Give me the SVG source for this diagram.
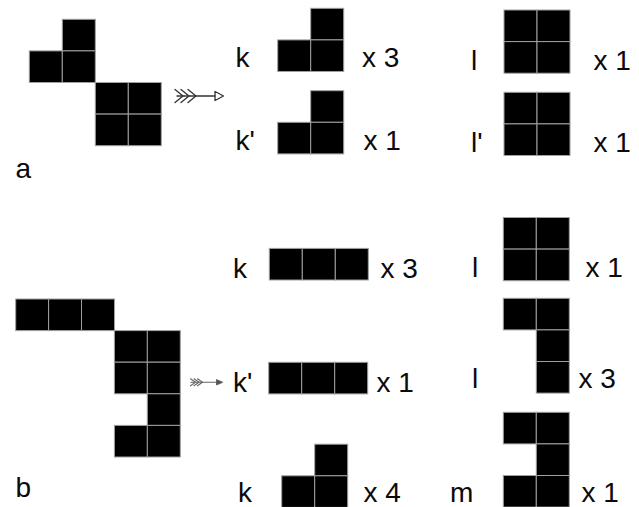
<svg xmlns="http://www.w3.org/2000/svg" width="639" height="507" viewBox="0 0 639 507">
<style>
.c{fill:#000;stroke:#a0a0a0;stroke-width:1}
.t{font-family:"Liberation Sans",Arial,sans-serif;font-size:28px;fill:#0a0a0a}
.ar{fill:none;stroke:#333;stroke-width:1.3;stroke-linecap:round;stroke-linejoin:round}
.ar2{fill:none;stroke:#666;stroke-width:1.1;stroke-linecap:round;stroke-linejoin:round}
</style>
<defs>
<rect id="cell" class="c" width="33" height="31.6"/>
</defs>
<rect width="639" height="507" fill="#fff"/>

<g id="piece-a">
<use href="#cell" x="62.3" y="19.3"/>
<use href="#cell" x="29.3" y="50.9"/>
<use href="#cell" x="62.3" y="50.9"/>
<use href="#cell" x="95.3" y="82.5"/>
<use href="#cell" x="128.3" y="82.5"/>
<use href="#cell" x="95.3" y="114.1"/>
<use href="#cell" x="128.3" y="114.1"/>
<text class="t" x="15.5" y="178">a</text>
</g>

<g id="a-k">
<text class="t" x="235.5" y="67">k</text>
<use href="#cell" x="310.7" y="8.3"/>
<use href="#cell" x="277.7" y="39.9"/>
<use href="#cell" x="310.7" y="39.9"/>
<text class="t" x="362" y="67">x 3</text>
</g>

<g id="a-k2">
<text class="t" x="235.5" y="150">k'</text>
<use href="#cell" x="310.7" y="90.7"/>
<use href="#cell" x="277.7" y="122.3"/>
<use href="#cell" x="310.7" y="122.3"/>
<text class="t" x="363.5" y="150">x 1</text>
</g>

<g id="a-l">
<text class="t" x="471" y="70">l</text>
<use href="#cell" x="504" y="10"/>
<use href="#cell" x="537" y="10"/>
<use href="#cell" x="504" y="41.6"/>
<use href="#cell" x="537" y="41.6"/>
<text class="t" x="593.5" y="70">x 1</text>
</g>

<g id="a-l2">
<text class="t" x="471" y="152">l'</text>
<use href="#cell" x="504" y="92.3"/>
<use href="#cell" x="537" y="92.3"/>
<use href="#cell" x="504" y="123.9"/>
<use href="#cell" x="537" y="123.9"/>
<text class="t" x="593.5" y="152">x 1</text>
</g>

<g id="piece-b">
<use href="#cell" x="15.7" y="299"/>
<use href="#cell" x="48.6" y="299"/>
<use href="#cell" x="81.5" y="299"/>
<use href="#cell" x="114.4" y="330.6"/>
<use href="#cell" x="147.3" y="330.6"/>
<use href="#cell" x="114.4" y="362.2"/>
<use href="#cell" x="147.3" y="362.2"/>
<use href="#cell" x="147.3" y="393.8"/>
<use href="#cell" x="114.4" y="425.4"/>
<use href="#cell" x="147.3" y="425.4"/>
<text class="t" x="15.5" y="497">b</text>
</g>

<g id="b-k">
<text class="t" x="233" y="278">k</text>
<use href="#cell" x="269.3" y="248.4"/>
<use href="#cell" x="302.3" y="248.4"/>
<use href="#cell" x="335.3" y="248.4"/>
<text class="t" x="380.5" y="278">x 3</text>
</g>

<g id="b-k2">
<text class="t" x="233" y="392">k'</text>
<use href="#cell" x="268.7" y="362.3"/>
<use href="#cell" x="301.7" y="362.3"/>
<use href="#cell" x="334.7" y="362.3"/>
<text class="t" x="376.5" y="392">x 1</text>
</g>

<g id="b-k3">
<text class="t" x="238" y="502">k</text>
<use href="#cell" x="314.7" y="444.2"/>
<use href="#cell" x="281.7" y="475.8"/>
<use href="#cell" x="314.7" y="475.8"/>
<text class="t" x="363.5" y="502">x 4</text>
</g>

<g id="b-l">
<text class="t" x="472" y="277">l</text>
<use href="#cell" x="503.3" y="217.5"/>
<use href="#cell" x="536.3" y="217.5"/>
<use href="#cell" x="503.3" y="249.1"/>
<use href="#cell" x="536.3" y="249.1"/>
<text class="t" x="585.5" y="277">x 1</text>
</g>

<g id="b-l2">
<text class="t" x="472" y="388">l</text>
<use href="#cell" x="503.3" y="298.3"/>
<use href="#cell" x="536.3" y="298.3"/>
<use href="#cell" x="536.3" y="329.9"/>
<use href="#cell" x="536.3" y="361.5"/>
<text class="t" x="578.5" y="388">x 3</text>
</g>

<g id="b-m">
<text class="t" x="450" y="502">m</text>
<use href="#cell" x="503.3" y="412.3"/>
<use href="#cell" x="536.3" y="412.3"/>
<use href="#cell" x="536.3" y="443.9"/>
<use href="#cell" x="503.3" y="475.5"/>
<use href="#cell" x="536.3" y="475.5"/>
<text class="t" x="581.5" y="502">x 1</text>
</g>

<g id="connectors">
<g id="arrow-a">
<line class="ar" x1="177" y1="96" x2="215" y2="96"/>
<polyline class="ar" points="175,89.5 183,96 175,102.5"/>
<polyline class="ar" points="181,89.5 189,96 181,102.5"/>
<polyline class="ar" points="188,89.5 196,96 188,102.5"/>
<polygon class="ar" points="215,91.5 223.5,96 215,100.5" fill="#fff"/>
</g>
<g id="arrow-b">
<line class="ar2" x1="191" y1="382.3" x2="217" y2="382.3"/>
<polyline class="ar2" points="190.5,378.8 195.5,382.3 190.5,385.8"/>
<polyline class="ar2" points="194,378.8 199,382.3 194,385.8"/>
<polyline class="ar2" points="197.5,378.8 202.5,382.3 197.5,385.8"/>
<polygon points="216.5,379.6 222.7,382.3 216.5,385" fill="#555" stroke="#555" stroke-width="0.8"/>
</g>
</g>
</svg>
